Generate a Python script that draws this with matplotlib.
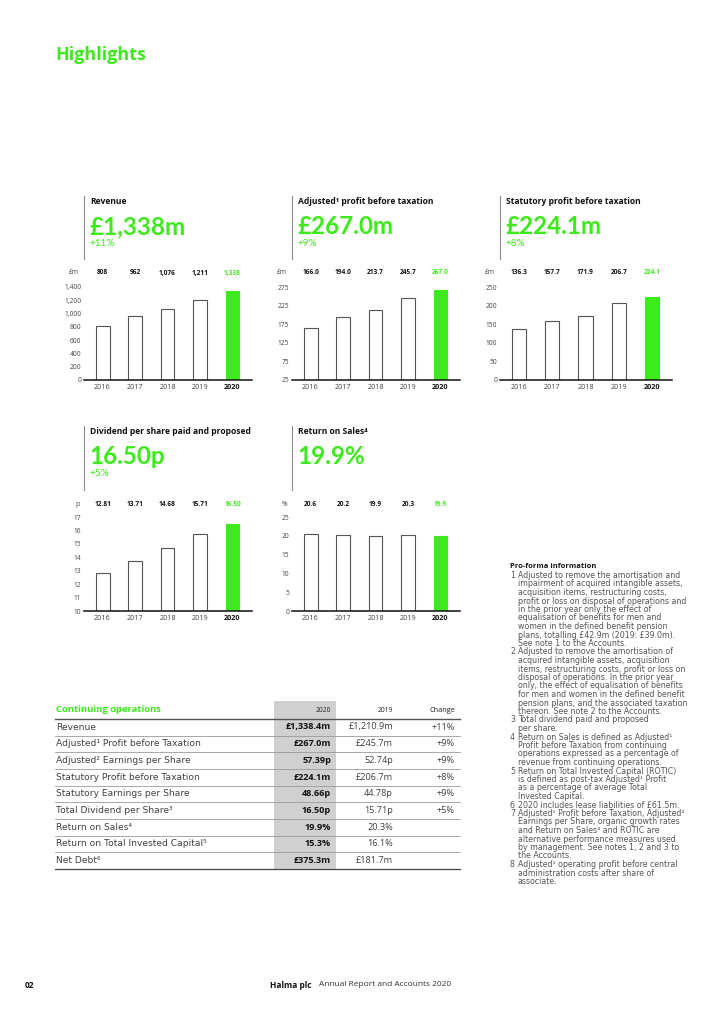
import matplotlib
matplotlib.use("Agg")
import matplotlib.pyplot as plt
from matplotlib.lines import Line2D
from matplotlib.patches import Rectangle

plt.rcParams['font.family'] = ['Open Sans', 'DejaVu Sans']
BIGFONT = ['Lato', 'DejaVu Sans']
WIDEFONT = ['DejaVu Sans']

GREEN = '#3DEB1C'
W, H = 724, 1024

years = ['2016', '2017', '2018', '2019', '2020']
revenue = [808, 962, 1076, 1211, 1338]
adjusted_pbt = [166.0, 194.0, 213.7, 245.7, 267.0]
statutory_pbt = [136.3, 157.7, 171.9, 206.7, 224.1]
dividend = [12.81, 13.71, 14.68, 15.71, 16.50]
return_on_sales = [20.6, 20.2, 19.9, 20.3, 19.9]

revenue_labels = ['808', '962', '1,076', '1,211', '1,338']
adjusted_labels = ['166.0', '194.0', '213.7', '245.7', '267.0']
statutory_labels = ['136.3', '157.7', '171.9', '206.7', '224.1']
dividend_labels = ['12.81', '13.71', '14.68', '15.71', '16.50']
ros_labels = ['20.6', '20.2', '19.9', '20.3', '19.9']

revenue_ticks = [0, 200, 400, 600, 800, 1000, 1200, 1400]
revenue_ticklabels = ['0', '200', '400', '600', '800', '1,000', '1,200', '1,400']
adjusted_ticks = [25, 75, 125, 175, 225, 275]
statutory_ticks = [0, 50, 100, 150, 200, 250]
dividend_ticks = [10, 11, 12, 13, 14, 15, 16, 17]
ros_ticks = [0, 5, 10, 15, 20, 25]

table_rows = ['Revenue', 'Adjusted\u00b9 Profit before Taxation', 'Adjusted\u00b2 Earnings per Share',
              'Statutory Profit before Taxation', 'Statutory Earnings per Share',
              'Total Dividend per Share\u00b3', 'Return on Sales\u2074',
              'Return on Total Invested Capital\u2075', 'Net Debt\u2076']
table_2020 = ['£1,338.4m', '£267.0m', '57.39p', '£224.1m', '48.66p', '16.50p', '19.9%', '15.3%', '£375.3m']
table_2019 = ['£1,210.9m', '£245.7m', '52.74p', '£206.7m', '44.78p', '15.71p', '20.3%', '16.1%', '£181.7m']
table_change = ['+11%', '+9%', '+9%', '+8%', '+9%', '+5%', '', '', '']

notes = [
    ('', 'Pro-forma information'),
    ('1', 'Adjusted to remove the amortisation and'),
    ('', 'impairment of acquired intangible assets,'),
    ('', 'acquisition items, restructuring costs,'),
    ('', 'profit or loss on disposal of operations and'),
    ('', 'in the prior year only the effect of'),
    ('', 'equalisation of benefits for men and'),
    ('', 'women in the defined benefit pension'),
    ('', 'plans, totalling £42.9m (2019: £39.0m).'),
    ('', 'See note 1 to the Accounts.'),
    ('2', 'Adjusted to remove the amortisation of'),
    ('', 'acquired intangible assets, acquisition'),
    ('', 'items, restructuring costs, profit or loss on'),
    ('', 'disposal of operations. In the prior year'),
    ('', 'only, the effect of equalisation of benefits'),
    ('', 'for men and women in the defined benefit'),
    ('', 'pension plans, and the associated taxation'),
    ('', 'thereon. See note 2 to the Accounts.'),
    ('3', 'Total dividend paid and proposed'),
    ('', 'per share.'),
    ('4', 'Return on Sales is defined as Adjusted\u00b9'),
    ('', 'Profit before Taxation from continuing'),
    ('', 'operations expressed as a percentage of'),
    ('', 'revenue from continuing operations.'),
    ('5', 'Return on Total Invested Capital (ROTIC)'),
    ('', 'is defined as post-tax Adjusted\u00b9 Profit'),
    ('', 'as a percentage of average Total'),
    ('', 'Invested Capital.'),
    ('6', '2020 includes lease liabilities of £61.5m.'),
    ('7', 'Adjusted\u00b9 Profit before Taxation, Adjusted\u00b2'),
    ('', 'Earnings per Share, organic growth rates'),
    ('', 'and Return on Sales\u2074 and ROTIC are'),
    ('', 'alternative performance measures used'),
    ('', 'by management. See notes 1, 2 and 3 to'),
    ('', 'the Accounts.'),
    ('8', 'Adjusted\u00b9 operating profit before central'),
    ('', 'administration costs after share of'),
    ('', 'associate.'),
]

fig = plt.figure(figsize=(W / 100, H / 100), dpi=100)
fig.patch.set_facecolor('white')


def T(x, y, s, **kw):
    kw.setdefault('va', 'center')
    return fig.text(x / W, 1 - y / H, s, **kw)


def vline(x, y0, y1, color='#8a8a8a', lw=0.8):
    fig.add_artist(Line2D([x / W, x / W], [1 - y0 / H, 1 - y1 / H], color=color, lw=lw))


def hline(x0, x1, y, color='#888888', lw=0.6):
    fig.add_artist(Line2D([x0 / W, x1 / W], [1 - y / H, 1 - y / H], color=color, lw=lw))


T(55, 55, 'Highlights', color=GREEN, fontsize=13, fontweight='bold')


def panel(line_x, right, top, bottom, toptick, label_y, values, labels, ticks, ticklabels,
          unit, title, big, pct):
    # heading
    vline(line_x, top, label_y - 14)
    T(line_x + 6, top + 6, title, fontsize=6.1, fontweight='bold', color='#111111')
    T(line_x + 5, top + 31, big, fontsize=17.5, fontweight='bold', color=GREEN, family=BIGFONT)
    if pct:
        T(line_x + 6, top + 48, pct, fontsize=7.2, color=GREEN, family=BIGFONT)
    # chart
    ax = fig.add_axes([line_x / W, 1 - bottom / H, (right - line_x) / W, (bottom - toptick) / H])
    ax.set_facecolor('none')
    x = list(range(len(values)))
    colors = ['white'] * (len(values) - 1) + [GREEN]
    edges = ['#555555'] * (len(values) - 1) + [GREEN]
    ax.bar(x, values, width=0.43, color=colors, edgecolor=edges, linewidth=0.8, zorder=2)
    ax.set_xlim(-0.57, 4.6)
    ax.set_ylim(ticks[0], ticks[-1])
    ax.set_yticks(ticks)
    ax.set_yticklabels(ticklabels if ticklabels else [str(t) for t in ticks])
    ax.set_xticks(x)
    ax.set_xticklabels(years)
    for lab in ax.get_xticklabels():
        lab.set_fontsize(5.2)
        lab.set_color('#444444')
    xl = ax.get_xticklabels()[-1]
    xl.set_fontweight('bold')
    xl.set_color('#111111')
    ax.tick_params(axis='y', length=0, pad=2, labelsize=4.8, labelcolor='#444444')
    ax.tick_params(axis='x', length=0, pad=3)
    for s in ['top', 'right', 'left']:
        ax.spines[s].set_visible(False)
    ax.spines['bottom'].set_color('#111111')
    ax.spines['bottom'].set_linewidth(1.1)
    yf = (bottom - label_y) / (bottom - toptick)
    for i, lab in enumerate(labels):
        last = i == len(labels) - 1
        ax.text(i, yf, lab, transform=ax.get_xaxis_transform(), ha='center', va='center',
                fontsize=4.7, color=GREEN if last else '#111111',
                fontweight='bold', clip_on=False)
    T(line_x - 5, label_y, unit, fontsize=4.8, color='#444444', ha='right')
    return ax


panel(84, 252, 196, 380, 287, 273, revenue, revenue_labels, revenue_ticks, revenue_ticklabels,
      '£m', 'Revenue', '£1,338m', '+11%')
panel(292, 460, 196, 380, 287, 273, adjusted_pbt, adjusted_labels, adjusted_ticks, None,
      '£m', 'Adjusted\u00b9 profit before taxation', '£267.0m', '+9%')
panel(500, 672, 196, 380, 287, 273, statutory_pbt, statutory_labels, statutory_ticks, None,
      '£m', 'Statutory profit before taxation', '£224.1m', '+8%')
panel(84, 252, 426, 611, 517, 504, dividend, dividend_labels, dividend_ticks, None,
      'p', 'Dividend per share paid and proposed', '16.50p', '+5%')
panel(292, 460, 426, 611, 517, 504, return_on_sales, ros_labels, ros_ticks, None,
      '%', 'Return on Sales\u2074', '19.9%', None)

# Table
fig.add_artist(Rectangle((274 / W, 1 - 869 / H), (336 - 274) / W, (869 - 701) / H,
                         transform=fig.transFigure, facecolor='#d0d0d0', edgecolor='none', zorder=0))
T(56, 710, 'Continuing operations', fontsize=6.8, fontweight='bold', color=GREEN)
T(331, 710, '2020', fontsize=4.8, ha='right', color='#222222')
T(393, 710, '2019', fontsize=4.8, ha='right', color='#222222')
T(455, 710, 'Change', fontsize=5.3, ha='right', color='#222222')
hline(55, 460, 718.5, color='#555555', lw=1.0)
row_h = 16.7
for i, name in enumerate(table_rows):
    y = 727 + i * row_h
    T(56, y, name, fontsize=6.6, color='#404040', family=WIDEFONT)
    T(331, y, table_2020[i], fontsize=6.6, fontweight='bold', ha='right', color='#111111')
    T(393, y, table_2019[i], fontsize=6.6, ha='right', color='#404040')
    T(455, y, table_change[i], fontsize=6.6, ha='right', color='#404040')
    ly = 735.5 + i * row_h
    if i < len(table_rows) - 1:
        hline(55, 460, ly, color='#9a9a9a', lw=0.6)
    else:
        hline(55, 460, 869, color='#444444', lw=0.9)

# Notes
ny = 567
for num, line in notes:
    if num == '' and line == 'Pro-forma information':
        T(510, ny, line, fontsize=5.4, fontweight='bold', color='#111111')
    else:
        if num:
            T(510, ny, num, fontsize=5.7, color='#555555', family=WIDEFONT)
        T(518, ny, line, fontsize=5.7, color='#555555', family=WIDEFONT)
    ny += 8.5

# Footer
T(25, 985, '02', fontsize=6, fontweight='bold', color='#111111')
T(270, 985, 'Halma plc', fontsize=6, fontweight='bold', color='#111111')
T(319, 985, 'Annual Report and Accounts 2020', fontsize=6, color='#333333')

fig.savefig('out.png', dpi=100, facecolor='white')
